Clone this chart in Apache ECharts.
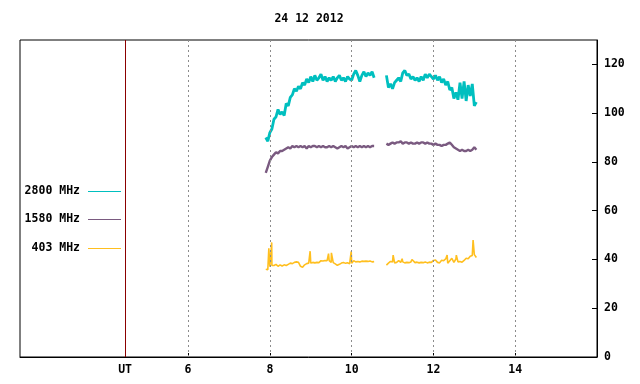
<!DOCTYPE html>
<html><head><meta charset="utf-8">
<script src="https://cdn.jsdelivr.net/npm/echarts@6/dist/echarts.min.js"></script>
<style>html,body{margin:0;padding:0;background:#fff}#c{width:640px;height:384px}</style>
</head><body><div id="c"></div>
<script>
// ---- data ----
const chartTitle = '24 12 2012';
const seriesNames = ['2800 MHz', '1580 MHz', '403 MHz'];
const seriesColors = ['#00bfbf', '#7a5a80', '#ffbf1f'];
const xTickValues = [6, 8, 10, 12, 14];
const utPosition = 4.46;
const utLabel = 'UT';
const yTickValues = [0, 20, 40, 60, 80, 100, 120];
const seg1Start = 7.90, seg2Start = 10.85, stepHours = 0.05;

const mhz2800_a = [90,88.5,92,93.5,97.5,98.5,101.5,99.5,100.5,99,104,103,106.5,107.5,110,109,111,110,112.5,111.5,
  114,112.5,115,113,115.5,113.5,114.5,116,113.5,115,113,114.5,113.5,115,113,114.5,115.5,113.5,114.5,113,
  115,114,113.5,116,117.5,115.5,113,115.5,117,115,116.5,115.5,117,114.5];
const mhz2800_b = [115.5,110.5,112,110,112.5,113.5,114.5,113,116.5,117.5,115.5,116,114,115,113.5,114.5,113,115,113.5,116,
  114.5,116,115,114,115.5,113.5,115,112.5,114,111.5,113,109.5,110.5,106,108.5,105.5,112.5,106,113,105,
  111.5,107,112,103,104.5];

const mhz1580_a = [75.5,78,80.5,82,83,84,83.5,84.5,84.5,85,85.5,86,85.5,86.5,86,86.5,86,86.5,86,86.5,
  85.5,86.5,86,86.5,86.5,86,86.5,86,86.5,86,86,86.5,86,86.5,86,85.5,86,86.5,86,86.5,
  85.5,86,86.5,86,86.5,86,86.5,86,86.5,86,86.5,86,86.5,86.5];
const mhz1580_b = [87.5,87,87.5,88,87.5,88,88,88.5,87.5,88,88,87.5,88,87.5,87.5,88,87.5,88,88,87.5,
  88,87.5,87.5,87,87.5,87,87,86.5,87,87,87.5,88,87,86,85.5,85,84.5,85,84.5,84.5,
  85,84.5,85,86,85];

const mhz403_a = [36,35.8,37,37.5,37.5,38,37.2,37.8,37.3,37.8,37.5,38,38.5,38.3,38.8,39,38.8,37.2,36.8,37.8,
  38.3,38.5,38.5,38.8,38.6,38.8,38.7,39.5,39.4,39.6,39.5,39.5,38.8,38.7,38.2,37.6,38,38.5,38.8,38.4,
  38.7,38.2,38.5,39.5,39,39.2,39,39.3,39.2,39.3,39.2,39.4,39,39.1];
const mhz403_b = [37.7,38.5,39.2,39,38.6,38.8,39.5,38.8,39,38.6,38.8,38.7,39,39.3,38.7,38.9,38.6,38.8,38.7,39,
  38.6,38.9,38.8,39.6,39.8,38.8,38.6,39.7,39.5,40.2,38.5,39.5,40.5,38.8,40.2,39,39.2,38.9,39.6,40.5,
  40.3,41.3,41.6,42,40.8];
const mhz403_spikes = [[7.975,44.6],[8.045,47],[8.985,43.4],[9.435,42.4],[9.505,42.7],[9.99,43.3],
  [11.015,41.8],[11.235,40.3],[11.475,40],[12.335,41.8],[12.56,41.8],[12.97,48]];

// ---- build ----
function build(segA, segB, spikes) {
  const pts = [];
  segA.forEach((v, i) => pts.push([+(seg1Start + i * stepHours).toFixed(3), v]));
  const gapT = (seg1Start + (segA.length - 1) * stepHours + seg2Start) / 2;
  segB.forEach((v, i) => pts.push([+(seg2Start + i * stepHours).toFixed(3), v]));
  (spikes || []).forEach(s => pts.push(s));
  pts.sort((a, b) => a[0] - b[0]);
  const out = [];
  let gapDone = false;
  pts.forEach(p => {
    if (!gapDone && p[0] > gapT) { out.push([gapT, '-']); gapDone = true; }
    out.push(p);
  });
  return out;
}

const fontBase = { fontFamily: 'DejaVu Sans Mono', fontWeight: 'bold', fontSize: 11.5, color: '#000' };
const chart = echarts.init(document.getElementById('c'), null, { renderer: 'canvas' });

const seriesData = [build(mhz2800_a, mhz2800_b), build(mhz1580_a, mhz1580_b), build(mhz403_a, mhz403_b, mhz403_spikes)];
const lineWidths = [2.8, 2.4, 1.6];

const legendGraphics = [];
const legendY = [191, 219, 248];
seriesNames.forEach((n, i) => {
  legendGraphics.push({ type: 'text', x: 80, y: legendY[i],
    style: { text: n, align: 'right', verticalAlign: 'middle', fill: '#000',
      font: 'bold 11.5px "DejaVu Sans Mono"' } });
  legendGraphics.push({ type: 'line', shape: { x1: 88, y1: legendY[i] + 0.5, x2: 121, y2: legendY[i] + 0.5 },
    style: { stroke: seriesColors[i], lineWidth: 1 } });
});
legendGraphics.push({ type: 'text', x: 309, y: 19,
  style: { text: chartTitle, align: 'center', verticalAlign: 'middle', fill: '#000', font: 'bold 11.5px "DejaVu Sans Mono"' } });

const option = {
  animation: false,
  backgroundColor: '#fff',
  grid: { left: 20, top: 40, right: 43, bottom: 27, show: true, borderColor: '#000', borderWidth: 1, containLabel: false },
  xAxis: {
    type: 'value', min: 1.89, max: 16,
    axisLine: { lineStyle: { color: '#000', width: 1 } },
    axisTick: { show: true, inside: true, length: 4, customValues: xTickValues, lineStyle: { color: '#000' } },
    axisLabel: Object.assign({ customValues: [utPosition].concat(xTickValues), margin: 7,
      formatter: v => (Math.abs(v - utPosition) < 1e-6 ? utLabel : String(v)) }, fontBase),
    splitLine: { show: false }
  },
  yAxis: {
    type: 'value', position: 'right', min: 0, max: 130,
    axisLine: { show: true, lineStyle: { color: '#000', width: 1 } },
    axisTick: { show: true, inside: true, length: 5, customValues: yTickValues, lineStyle: { color: '#000' } },
    axisLabel: Object.assign({ customValues: yTickValues, margin: 7, align: 'left' }, fontBase),
    splitLine: { show: false }
  },
  graphic: legendGraphics,
  series: [
    { type: 'line', data: [], z: 1, silent: true,
      markLine: { silent: true, symbol: 'none', label: { show: false }, animation: false,
        data: xTickValues.map(v => ({ xAxis: v, lineStyle: { color: '#8c8c8c', type: [2, 3], width: 1 } }))
          .concat([{ xAxis: utPosition, lineStyle: { color: '#8b0000', type: 'solid', width: 1 } }]) } }
  ].concat(seriesData.map((d, i) => ({
    name: seriesNames[i], type: 'line', data: d, z: 3, showSymbol: false, symbol: 'none',
    connectNulls: false, lineStyle: { color: seriesColors[i], width: lineWidths[i], join: 'bevel' },
    itemStyle: { color: seriesColors[i] }
  })))
};
chart.setOption(option);
</script></body></html>
